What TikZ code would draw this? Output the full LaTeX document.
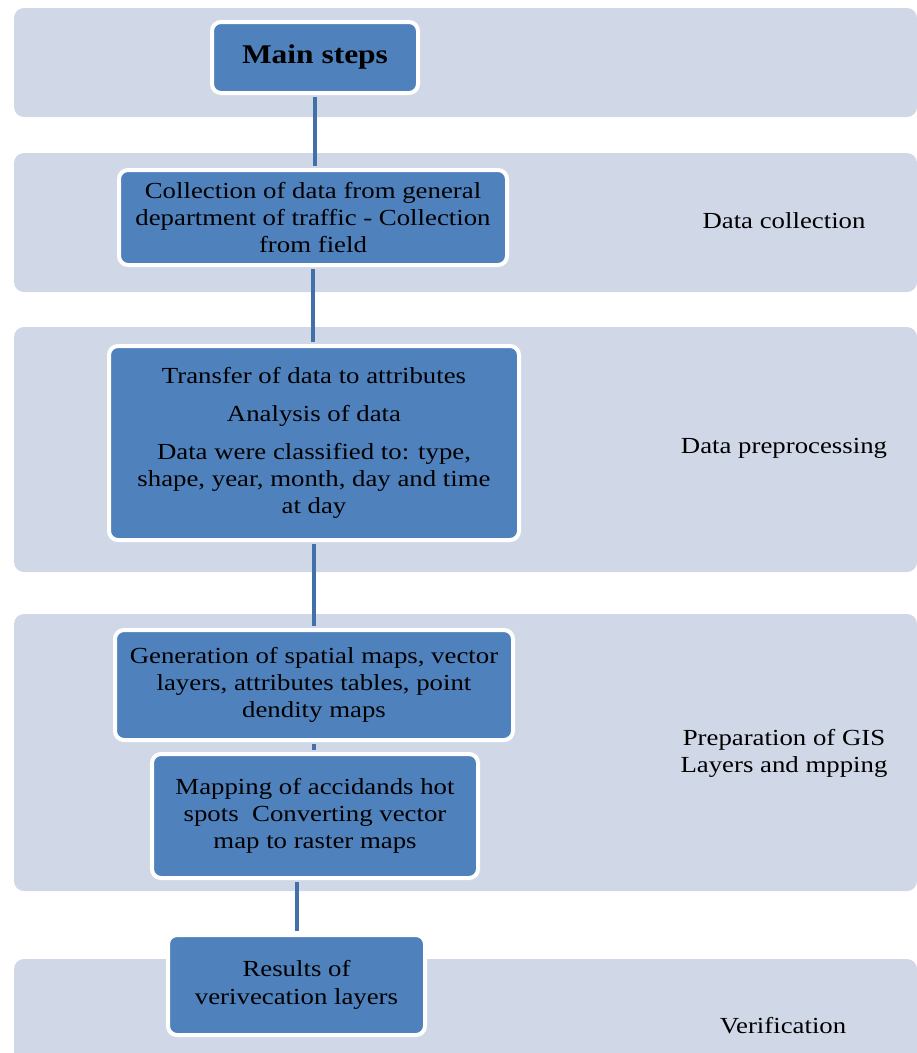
\documentclass[tikz,border=0pt]{standalone}
\usepackage{fontspec}
\setmainfont{Liberation Serif}[FakeStretch=1.165]
\definecolor{bandc}{HTML}{D0D8E8}
\definecolor{boxc}{HTML}{4F81BD}
\definecolor{linec}{HTML}{4270A8}
\begin{document}
\begin{tikzpicture}[x=1pt,y=-1pt,
  band/.style={fill=bandc,draw=none,rounded corners=10pt},
  stepbox/.style={rectangle,rounded corners=9pt,fill=boxc,draw=white,line width=4pt,
    inner sep=0pt,align=center,font=\fontsize{23}{27}\selectfont},
  lbl/.style={align=center,inner sep=0pt,font=\fontsize{23}{27}\selectfont},
  conn/.style={draw=linec,line width=4pt,shorten <=2pt,shorten >=2pt}]
\useasboundingbox (0,0) rectangle (917,1053);
\clip (0,0) rectangle (917,1053);
\fill[white] (0,0) rectangle (917,1053);
% bands
\path[band] (14,8) rectangle (917,117);
\path[band] (14,153) rectangle (917,292);
\path[band] (14,327) rectangle (917,572);
\path[band] (14,614) rectangle (917,891);
\path[band] (14,959) rectangle (917,1075);
% boxes
\node[stepbox,minimum width=206pt,minimum height=71pt,font=\fontsize{27}{31}\selectfont\bfseries] (main) at (315,57.5) {Main steps};
\node[stepbox,minimum width=388pt,minimum height=95pt] (b2) at (313,217.5)
  {Collection of data from general\\department of traffic - Collection\\from field};
\node[stepbox,minimum width=410pt,minimum height=194pt] (b3) at (314,443)
  {Transfer of data to attributes\\[11pt]Analysis of data\\[11pt]Data were classified to: type,\\shape, year, month, day and time\\at day};
\node[stepbox,minimum width=398pt,minimum height=110pt] (b4a) at (314,685)
  {Generation of spatial maps, vector\\layers, attributes tables, point\\dendity maps};
\node[stepbox,minimum width=326pt,minimum height=124pt] (b4b) at (315,816)
  {Mapping of accidands hot\\spots\ \ Converting vector\\map to raster maps};
\node[stepbox,minimum width=257pt,minimum height=100pt,font=\fontsize{23}{28.5}\selectfont] (b5) at (296.5,985)
  {Results of\\verivecation layers};
% labels
\node[lbl] (l1) at (784,221) {Data collection};
\node[lbl] (l2) at (784,448) {Data preprocessing};
\node[lbl] (l3) at (784,753) {Preparation of GIS\\Layers and mpping};
\node[lbl] (l4) at (783,1026) {Verification};
% connectors
\draw[conn] (main.south) -- (b2.north -| main.south);
\draw[conn] (b2.south) -- (b3.north -| b2.south);
\draw[conn] (b3.south) -- (b4a.north -| b3.south);
\draw[conn] (b4a.south) -- (b4b.north -| b4a.south);
\draw[conn] (b4b.south -| b5.north) -- (b5.north);
\end{tikzpicture}
\end{document}
